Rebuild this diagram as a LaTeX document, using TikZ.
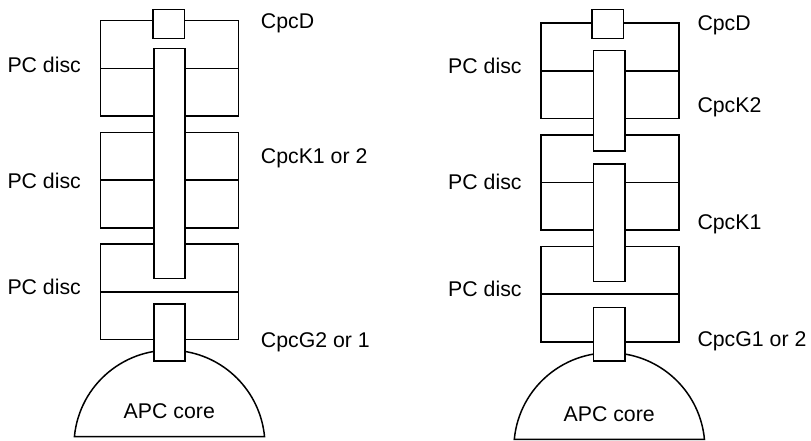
\documentclass[tikz,border=0pt]{standalone}
\usepackage{fontspec}
\setmainfont{Liberation Sans}
\usepackage{tikz}
\usetikzlibrary{positioning}
\tikzset{
  % --- stacked discs and linker boxes ---
  disc/.style={draw=black, line width=1.5pt, fill=white, minimum width=138pt,
               minimum height=95.4pt, inner sep=0pt, outer sep=0pt},
  linker/.style={draw=black, line width=1.5pt, fill=white, minimum width=31.3pt,
                 inner sep=0pt, outer sep=0pt},
  midline/.style={draw=black, line width=1.5pt},
  % --- core dome ---
  core/.style={draw=black, line width=1.5pt, fill=white},
  % --- text ---
  lbl/.style={font=\fontsize{21.3}{25}\selectfont, inner sep=0pt, anchor=base west},
  corelbl/.style={font=\fontsize{21.3}{25}\selectfont, inner sep=0pt, anchor=base},
}

\begin{document}
\begin{tikzpicture}[x=1pt, y=1pt, node distance=16.3pt]
  \useasboundingbox (0,0) rectangle (811,441);

  % left stack
  \node[disc] (ld1) at (169.5,372.6) {};
  \node[disc, below=of ld1] (ld2) {};
  \node[disc, below=of ld2] (ld3) {};
  \foreach \d in {ld1,ld2,ld3} \draw[midline] (\d.west) -- (\d.east);
  \draw[core] (74.4,4.3) arc[start angle=174.6, end angle=5.4, radius=95.5] -- cycle;
  \node[linker, minimum height=29pt] (lD) at (168.8,417.2) {};
  \node[linker, minimum height=229.6pt] (lK) at (169.4,277.5) {};
  \node[linker, minimum height=56.7pt] (lG) at (169.4,108.4) {};
  \node[corelbl] (lcore) at (169.3,22.7) {APC core};
  \node[lbl] (lp1) at (7.3,368.3) {PC disc};
  \node[lbl] (lp2) at (7.3,252.7) {PC disc};
  \node[lbl] (lp3) at (7.3,146) {PC disc};
  \node[lbl] (ltD) at (260.7,412.7) {CpcD};
  \node[lbl] (ltK) at (260.7,277.7) {CpcK1 or 2};
  \node[lbl] (ltG) at (260.7,93.7) {CpcG2 or 1};

  % right stack
  \node[disc] (rd1) at (610,370.2) {};
  \node[disc, below=of rd1] (rd2) {};
  \node[disc, below=of rd2] (rd3) {};
  \foreach \d in {rd1,rd2,rd3} \draw[midline] (\d.west) -- (\d.east);
  \draw[core] (514.3,1.7) arc[start angle=174.6, end angle=5.4, radius=95.5] -- cycle;
  \node[linker, minimum height=29pt] (rD) at (607.6,417.2) {};
  \node[linker, minimum height=100.3pt] (rK2) at (609.2,340.2) {};
  \node[linker, minimum height=117.7pt] (rK1) at (609.2,218.2) {};
  \node[linker, minimum height=53.3pt] (rG) at (609.2,106.7) {};
  \node[corelbl] (rcore) at (609.2,19.3) {APC core};
  \node[lbl] (rp1) at (448,367) {PC disc};
  \node[lbl] (rp2) at (448,251.7) {PC disc};
  \node[lbl] (rp3) at (448,144.3) {PC disc};
  \node[lbl] (rtD) at (697.3,410.3) {CpcD};
  \node[lbl] (rtK2) at (697.3,328.7) {CpcK2};
  \node[lbl] (rtK1) at (697.3,211) {CpcK1};
  \node[lbl] (rtG) at (697.3,94.3) {CpcG1 or 2};
\end{tikzpicture}
\end{document}
